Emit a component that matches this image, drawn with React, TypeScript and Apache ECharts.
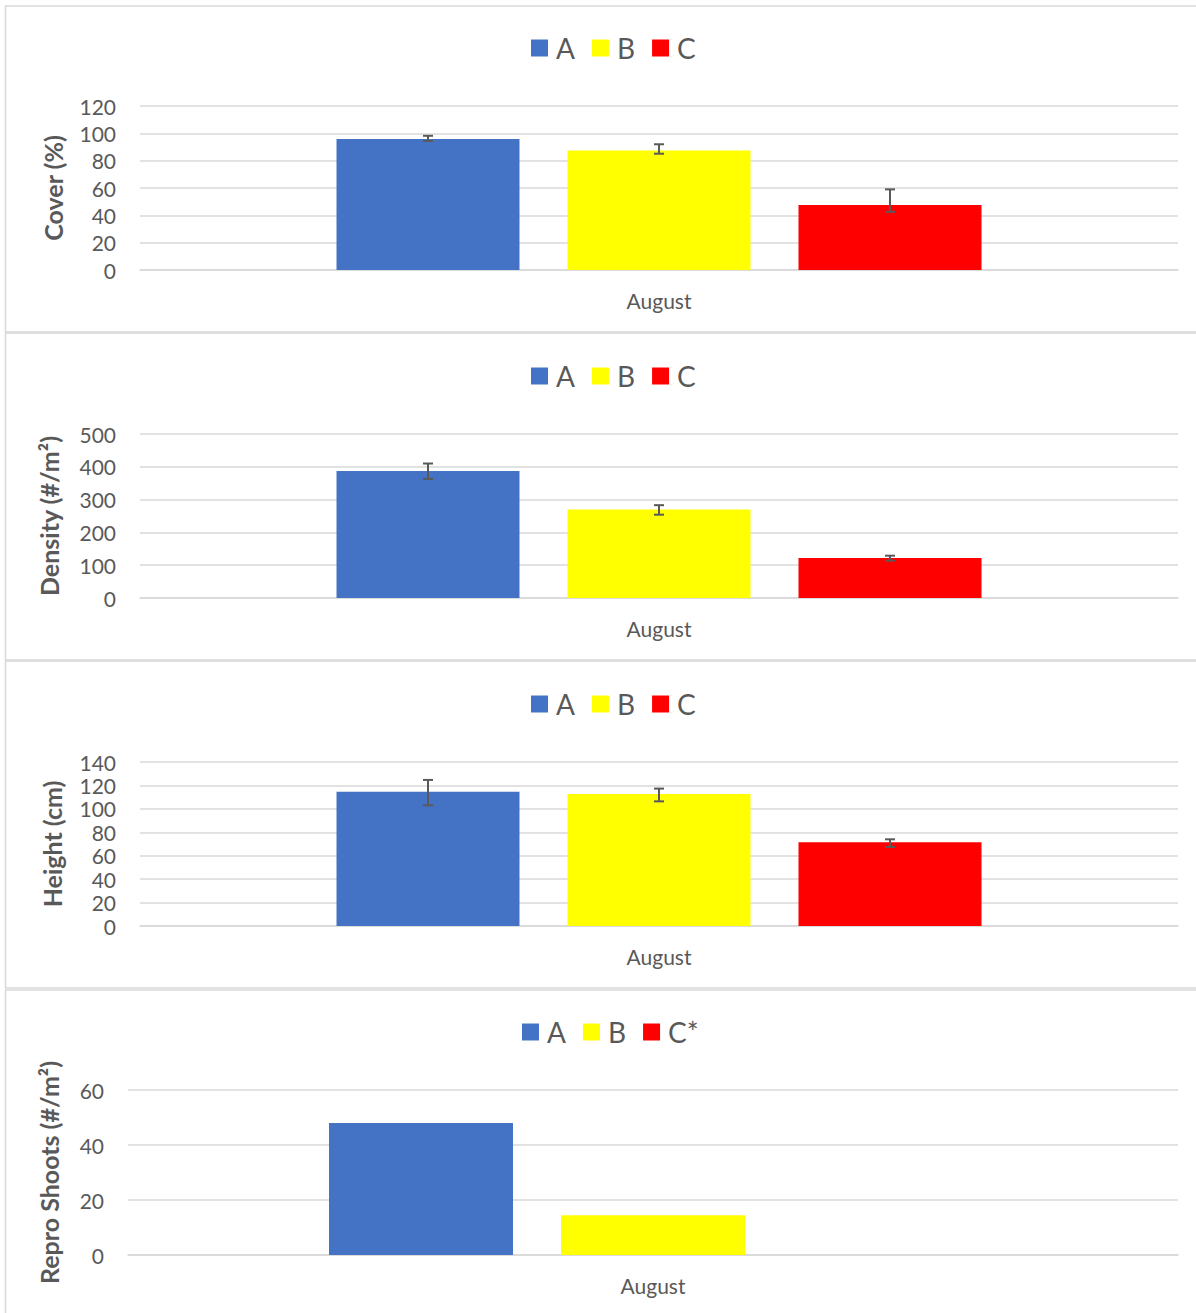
import React, { useEffect, useRef } from "react";
import * as echarts from "echarts";

// ---- data ----
const categories = ["August"];
const seriesNames = ["A", "B", "C"];
const reproSeriesNames = ["A", "B", "C*"];
const seriesColors = ["#4472c4", "#ffff00", "#ff0000"];

const coverValues = [95.8, 87.5, 47.5];
const coverErrLow = [94.4, 85.1, 42.6];
const coverErrHigh = [98.2, 92.0, 59.0];

const densityValues = [387, 270, 122];
const densityErrLow = [363, 254, 114];
const densityErrHigh = [410, 283, 129];

const heightValues = [114.5, 112.7, 71.5];
const heightErrLow = [103, 106.4, 67.5];
const heightErrHigh = [124.7, 117.3, 74];

const reproValues: (number | null)[] = [48, 14.5, null];

const yAxisTitles = ["Cover (%)", "Density (#/m²)", "Height (cm)", "Repro Shoots (#/m²)"];
const yMaxes = [120, 500, 140, 60];
const yIntervals = [20, 100, 20, 20];

// ---- layout / style ----
const FONT = "Lato, 'Open Sans', sans-serif";
const TEXT = "#595959";
const GRID_LINE = "#d9d9d9";

const panels = [
  { top: 6, bottom: 332, legendLeft: 531, legendTop: 33, gridLeft: 140, gridTop: 106, gridW: 1038, gridH: 164, barW: 183, nameGap: 75 },
  { top: 333, bottom: 660, legendLeft: 531, legendTop: 361, gridLeft: 140, gridTop: 434, gridW: 1038, gridH: 164, barW: 183, nameGap: 79 },
  { top: 661, bottom: 988, legendLeft: 531, legendTop: 689, gridLeft: 140, gridTop: 762, gridW: 1038, gridH: 164, barW: 183, nameGap: 76 },
  { top: 990, bottom: 1330, legendLeft: 522, legendTop: 1017, gridLeft: 128, gridTop: 1090, gridW: 1050, gridH: 165, barW: 184, nameGap: 67 },
];
const BAR_GAP_PX = 48;

export default function App() {
  const ref = useRef<HTMLDivElement>(null);

  useEffect(() => {
    if (!ref.current) return;
    const chart = echarts.init(ref.current, undefined, { renderer: "svg" });

    const datasets = [
      { names: seriesNames, values: coverValues, lo: coverErrLow, hi: coverErrHigh },
      { names: seriesNames, values: densityValues, lo: densityErrLow, hi: densityErrHigh },
      { names: seriesNames, values: heightValues, lo: heightErrLow, hi: heightErrHigh },
      { names: reproSeriesNames, values: reproValues, lo: null, hi: null },
    ];

    const grid: any[] = [];
    const xAxis: any[] = [];
    const yAxis: any[] = [];
    const legend: any[] = [];
    const series: any[] = [];
    const graphic: any[] = [];

    panels.forEach((p, pi) => {
      const d = datasets[pi];
      grid.push({ left: p.gridLeft, top: p.gridTop, width: p.gridW, height: p.gridH });
      xAxis.push({
        type: "category",
        gridIndex: pi,
        data: categories,
        axisLine: { show: true, lineStyle: { color: GRID_LINE, width: 1.5 } },
        axisTick: { show: false },
        axisLabel: { color: TEXT, fontFamily: FONT, fontSize: 21, margin: 20 },
      });
      yAxis.push({
        type: "value",
        gridIndex: pi,
        min: 0,
        max: yMaxes[pi],
        interval: yIntervals[pi],
        name: yAxisTitles[pi],
        nameLocation: "middle",
        nameRotate: 90,
        nameGap: p.nameGap,
        nameTextStyle: { color: TEXT, fontFamily: FONT, fontSize: 25, fontWeight: "bold" },
        axisLine: { show: false },
        axisTick: { show: false },
        axisLabel: { color: TEXT, fontFamily: FONT, fontSize: 21, margin: 24 },
        splitLine: { show: true, lineStyle: { color: GRID_LINE, width: 1.5 } },
      });
      legend.push({
        data: d.names,
        left: p.legendLeft,
        top: p.legendTop,
        padding: 0,
        itemWidth: 17,
        itemHeight: 17,
        itemGap: 17,
        icon: "rect",
        selectedMode: false,
        textStyle: { color: TEXT, fontFamily: FONT, fontSize: 28, lineHeight: 30, padding: [0, 0, 0, 3] },
      });
      d.names.forEach((nm, si) => {
        series.push({
          type: "bar",
          name: nm,
          xAxisIndex: pi,
          yAxisIndex: pi,
          data: [d.values[si]],
          barWidth: p.barW,
          barGap: `${(BAR_GAP_PX / p.barW) * 100}%`,
          itemStyle: { color: seriesColors[si] },
        });
      });
      if (d.lo && d.hi) {
        const pitch = p.barW + BAR_GAP_PX;
        series.push({
          type: "custom",
          xAxisIndex: pi,
          yAxisIndex: pi,
          z: 10,
          data: d.values.map((_, si) => [0, (d.lo as number[])[si], (d.hi as number[])[si], si]),
          encode: { x: 0, y: [1, 2] },
          renderItem: (_params: any, api: any) => {
            const idx = api.value(3);
            const lo = api.coord([api.value(0), api.value(1)]);
            const hi = api.coord([api.value(0), api.value(2)]);
            const x = lo[0] + (idx - 1) * pitch;
            const cap = 5;
            const st = { stroke: TEXT, lineWidth: 2 };
            return {
              type: "group",
              children: [
                { type: "line", shape: { x1: x, y1: hi[1], x2: x, y2: lo[1] }, style: st },
                { type: "line", shape: { x1: x - cap, y1: hi[1], x2: x + cap, y2: hi[1] }, style: st },
                { type: "line", shape: { x1: x - cap, y1: lo[1], x2: x + cap, y2: lo[1] }, style: st },
              ],
            };
          },
        });
      }
      graphic.push({
        type: "rect",
        shape: { x: 5.5, y: p.top, width: 1200, height: p.bottom - p.top },
        style: { fill: "none", stroke: GRID_LINE, lineWidth: 1.5 },
        silent: true,
      });
    });

    chart.setOption({
      animation: false,
      backgroundColor: "#ffffff",
      grid,
      xAxis,
      yAxis,
      legend,
      series,
      graphic,
    });

    return () => chart.dispose();
  }, []);

  return (
    <div
      ref={ref}
      style={{ position: "fixed", left: 0, top: 0, width: 1196, height: 1313, background: "#fff" }}
    />
  );
}
